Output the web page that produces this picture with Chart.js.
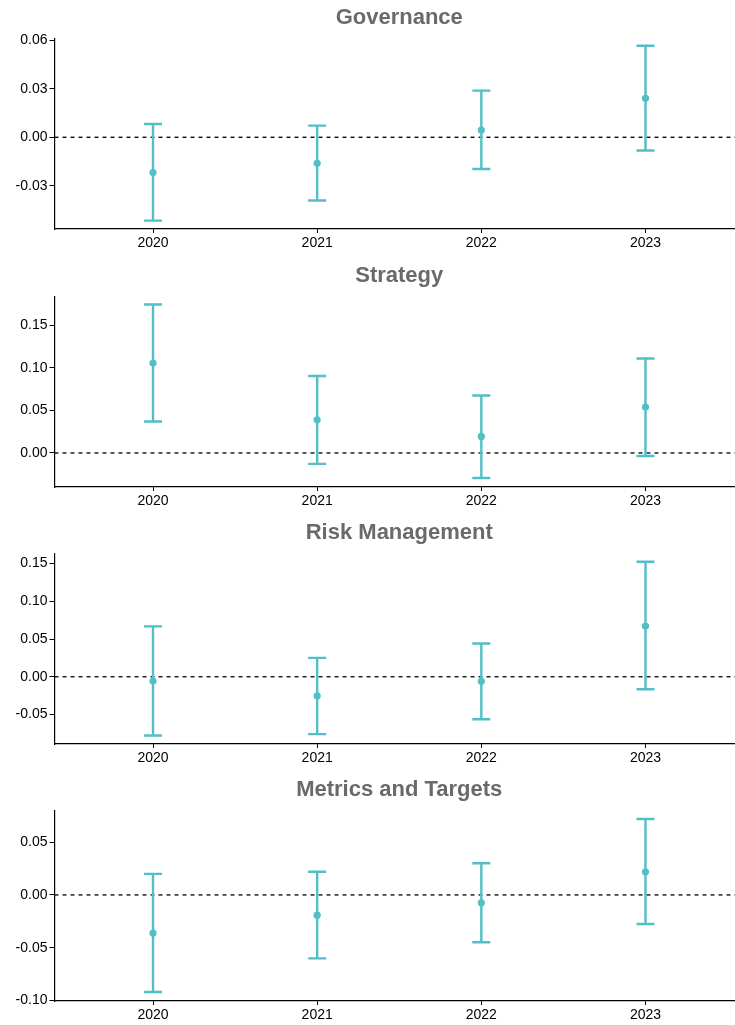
<!DOCTYPE html>
<html>
<head>
<meta charset="utf-8">
<title>TCFD pillar estimates by year</title>
<script src="https://cdn.jsdelivr.net/npm/chart.js@4.4.1/dist/chart.umd.min.js"></script>
<style>
  html, body { margin: 0; padding: 0; background: #ffffff; overflow: hidden; }
  .panel { position: absolute; left: 0; width: 744px; height: 258px; }
</style>
</head>
<body>
<div class="panel" style="top:0px"><canvas id="c0" width="744" height="258"></canvas></div>
<div class="panel" style="top:258px"><canvas id="c1" width="744" height="258"></canvas></div>
<div class="panel" style="top:515px"><canvas id="c2" width="744" height="258"></canvas></div>
<div class="panel" style="top:772px"><canvas id="c3" width="744" height="258"></canvas></div>
<script>
// Years shown on every panel
const years = ['2020', '2021', '2022', '2023'];

// Governance: point estimate with lower / upper interval bounds
const governanceEst   = [-0.0218, -0.0161, 0.0045, 0.0241];
const governanceLower = [-0.0515, -0.0391, -0.0196, -0.0082];
const governanceUpper = [0.0082, 0.0072, 0.0288, 0.0566];
const governanceTicks = [-0.03, 0.00, 0.03, 0.06];

// Strategy
const strategyEst   = [0.1057, 0.0389, 0.0194, 0.0540];
const strategyLower = [0.0369, -0.0128, -0.0295, -0.0035];
const strategyUpper = [0.1745, 0.0905, 0.0676, 0.1111];
const strategyTicks = [0.00, 0.05, 0.10, 0.15];

// Risk Management
const riskEst   = [-0.0057, -0.0254, -0.0061, 0.0672];
const riskLower = [-0.0778, -0.0760, -0.0562, -0.0166];
const riskUpper = [0.0668, 0.0250, 0.0440, 0.1525];
const riskTicks = [-0.05, 0.00, 0.05, 0.10, 0.15];

// Metrics and Targets
const metricsEst   = [-0.0361, -0.0192, -0.0075, 0.0219];
const metricsLower = [-0.0920, -0.0601, -0.0448, -0.0276];
const metricsUpper = [0.0200, 0.0219, 0.0300, 0.0719];
const metricsTicks = [-0.10, -0.05, 0.00, 0.05];

const panels = [
  { title: 'Governance', est: governanceEst, lo: governanceLower, hi: governanceUpper, ticks: governanceTicks, min: -0.0567, max: 0.0611 },
  { title: 'Strategy', est: strategyEst, lo: strategyLower, hi: strategyUpper, ticks: strategyTicks, min: -0.0400, max: 0.1840 },
  { title: 'Risk Management', est: riskEst, lo: riskLower, hi: riskUpper, ticks: riskTicks, min: -0.0891, max: 0.1635 },
  { title: 'Metrics and Targets', est: metricsEst, lo: metricsLower, hi: metricsUpper, ticks: metricsTicks, min: -0.1005, max: 0.0801 }
];

const TEAL = '#52bec5';
const FONT = "'Liberation Sans', Arial, Helvetica, sans-serif";
Chart.defaults.font.family = FONT;

function makePanel(canvasId, p) {
  // vertical whiskers: lower -> upper, separated by gaps
  const whiskers = [];
  years.forEach((y, i) => {
    whiskers.push({ x: i, y: p.lo[i] });
    whiskers.push({ x: i, y: p.hi[i] });
    whiskers.push({ x: i, y: null });
  });
  const caps = [];
  years.forEach((y, i) => {
    caps.push({ x: i, y: p.lo[i] });
    caps.push({ x: i, y: p.hi[i] });
  });
  const points = years.map((y, i) => ({ x: i, y: p.est[i] }));

  new Chart(document.getElementById(canvasId), {
    type: 'scatter',
    data: {
      datasets: [
        { // reference line at zero
          type: 'line',
          data: [{ x: -0.6, y: 0 }, { x: years.length - 0.4, y: 0 }],
          borderColor: '#000000',
          borderWidth: 1.3,
          borderDash: [4, 4],
          pointRadius: 0,
          order: 4
        },
        {
          type: 'line',
          data: whiskers,
          borderColor: TEAL,
          borderWidth: 2.4,
          spanGaps: false,
          pointRadius: 0,
          order: 3
        },
        {
          data: caps,
          pointStyle: 'line',
          pointRadius: 9,
          pointBorderWidth: 2.4,
          borderColor: TEAL,
          backgroundColor: TEAL,
          order: 2
        },
        {
          data: points,
          pointStyle: 'circle',
          pointRadius: 3.6,
          pointBorderWidth: 0,
          backgroundColor: TEAL,
          borderColor: TEAL,
          order: 1
        }
      ]
    },
    options: {
      responsive: false,
      animation: false,
      devicePixelRatio: 1,
      layout: { autoPadding: false, padding: { left: 0, right: 0, top: 0, bottom: 0 } },
      plugins: {
        legend: { display: false },
        tooltip: { enabled: false },
        title: {
          display: true,
          text: p.title,
          fullSize: false,
          color: '#6a6a6a',
          font: { family: FONT, size: 22, weight: 'bold', lineHeight: 1.2 },
          padding: { top: 5, bottom: 7 }
        }
      },
      scales: {
        x: {
          type: 'linear',
          min: -0.6,
          max: years.length - 0.4,
          afterBuildTicks: (axis) => { axis.ticks = years.map((y, i) => ({ value: i })); },
          afterFit: (scale) => {
            scale.height = 29;
            scale.paddingLeft = 0;
            scale.paddingRight = 0;
          },
          ticks: {
            color: '#000000',
            font: { family: FONT, size: 14 },
            padding: 2,
            maxRotation: 0,
            callback: (v) => years[v]
          },
          grid: { drawOnChartArea: false, drawTicks: true, tickLength: 4, color: '#000000', tickWidth: 1 },
          border: { display: true, color: '#000000', width: 1.2 }
        },
        y: {
          min: p.min,
          max: p.max,
          afterBuildTicks: (axis) => { axis.ticks = p.ticks.map(v => ({ value: v })); },
          afterFit: (scale) => {
            scale.width = 54.5;
            scale.paddingTop = 0;
            scale.paddingBottom = 0;
          },
          ticks: {
            color: '#000000',
            font: { family: FONT, size: 14 },
            padding: 2,
            callback: (v) => v.toFixed(2)
          },
          grid: { drawOnChartArea: false, drawTicks: true, tickLength: 5, color: '#000000', tickWidth: 1 },
          border: { display: true, color: '#000000', width: 1.2 }
        }
      }
    }
  });
}

panels.forEach((p, i) => makePanel('c' + i, p));
</script>
</body>
</html>
